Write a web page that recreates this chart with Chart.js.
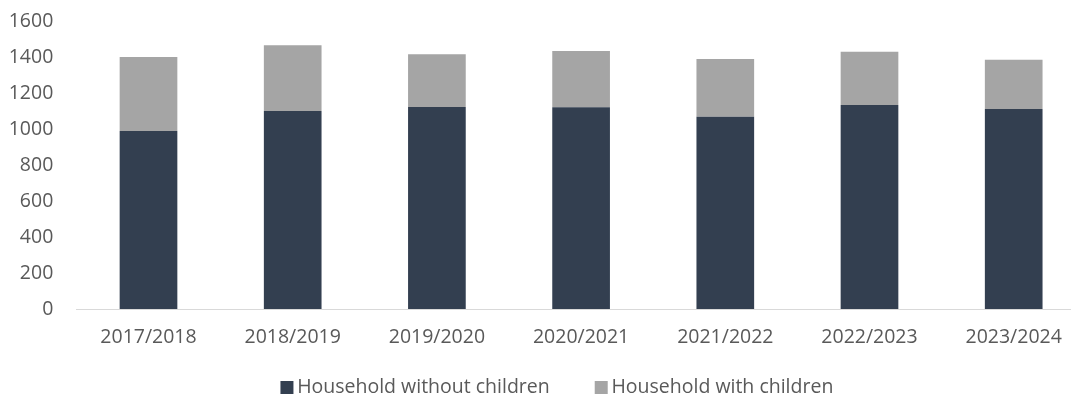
<!DOCTYPE html>
<html lang="en">

<head>
    <meta charset="UTF-8">
    <title>Households by year</title>
    <script src="https://cdn.jsdelivr.net/npm/chart.js"></script>
    <style>
        html, body {
            margin: 0;
            padding: 0;
            overflow: hidden;
            background: #ffffff;
        }
        .chart-container {
            width: 1100px;
            height: 396px;
        }
    </style>
</head>

<body>
    <div class="chart-container">
        <canvas id="households" width="1100" height="396"></canvas>
    </div>

    <script>
        // Data
        const seasons = ["2017/2018", "2018/2019", "2019/2020", "2020/2021", "2021/2022", "2022/2023", "2023/2024"];
        const withoutChildren = [989, 1100, 1122, 1121, 1068, 1133, 1111];
        const withChildren = [411, 365, 293, 312, 321, 296, 274];
        const seriesNames = ["Household without children", "Household with children"];
        const yMin = 0;
        const yMax = 1600;
        const yStep = 200;

        const textColor = "#595959";
        const fontFamily = "'Open Sans', sans-serif";
        const fontSize = 19.5;

        // moves the legend after layout so it sits closer under the labels
        const legendNudge = {
            id: "legendNudge",
            afterLayout(chart, args, opts) {
                const lg = chart.legend;
                if (!lg) return;
                lg.left += opts.x;
                lg.right += opts.x;
                lg.top += opts.y;
                lg.bottom += opts.y;
            }
        };

        new Chart(document.getElementById("households"), {
            type: "bar",
            data: {
                labels: seasons,
                datasets: [
                    {
                        label: seriesNames[0],
                        data: withoutChildren,
                        backgroundColor: "#333f50",
                        borderWidth: 0
                    },
                    {
                        label: seriesNames[1],
                        data: withChildren,
                        backgroundColor: "#a5a5a5",
                        borderWidth: 0
                    }
                ]
            },
            plugins: [legendNudge],
            options: {
                responsive: false,
                animation: false,
                barPercentage: 0.4,
                categoryPercentage: 1.0,
                layout: {
                    padding: { top: 21, left: 0, right: 14.2, bottom: -34.5 }
                },
                plugins: {
                    tooltip: { enabled: false },
                    legendNudge: { x: 17, y: -23.25 },
                    legend: {
                        position: "bottom",
                        labels: {
                            color: textColor,
                            font: { family: fontFamily, size: fontSize },
                            usePointStyle: true,
                            pointStyle: "rect",
                            boxWidth: 1,
                            boxHeight: 13,
                            padding: 51
                        }
                    }
                },
                scales: {
                    x: {
                        stacked: true,
                        grid: { display: false, drawTicks: false },
                        border: { display: true, color: "#d9d9d9", width: 1 },
                        ticks: {
                            color: textColor,
                            font: { family: fontFamily, size: fontSize },
                            padding: 17,
                            maxRotation: 0
                        },
                        afterFit: (scale) => { scale.height = 41; }
                    },
                    y: {
                        stacked: true,
                        min: yMin,
                        max: yMax,
                        grid: { display: false, drawTicks: false },
                        border: { display: false },
                        ticks: {
                            stepSize: yStep,
                            color: textColor,
                            font: { family: fontFamily, size: fontSize },
                            padding: 23.1,
                            callback: (value) => String(value)
                        },
                        afterFit: (scale) => {
                            scale.width = 76.4;
                            scale.paddingTop = 0;
                            scale.paddingBottom = 0;
                        }
                    }
                }
            }
        });
    </script>
</body>

</html>
